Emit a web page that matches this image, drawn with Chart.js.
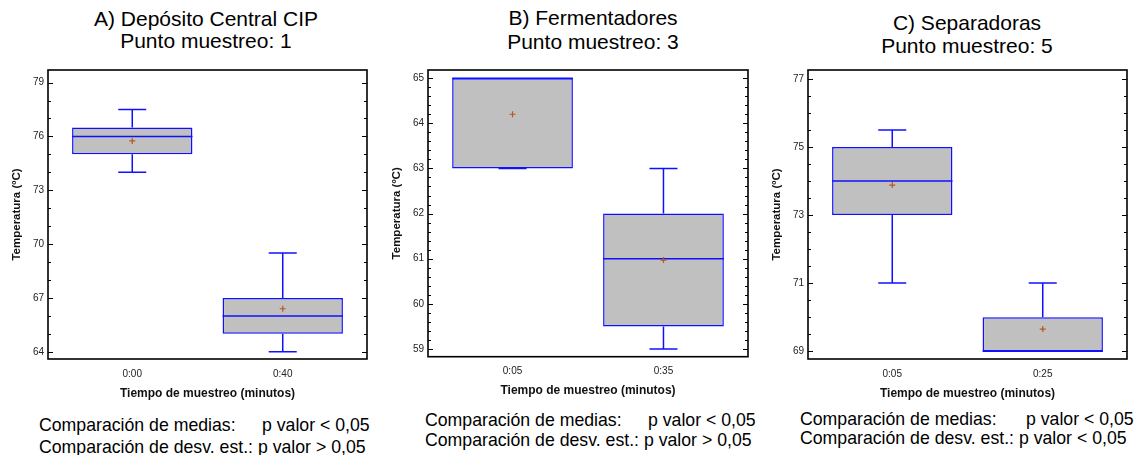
<!DOCTYPE html>
<html>
<head>
<meta charset="utf-8">
<title>Temperatura CIP</title>
<script src="https://cdn.jsdelivr.net/npm/chart.js@4.4.0/dist/chart.umd.min.js"></script>
<style>
  body { margin: 0; background: #fff; width: 1138px; height: 455px; position: relative; overflow: hidden;
         font-family: "Liberation Sans", Arial, sans-serif; color: #000; }
  canvas { position: absolute; }
  .tit { position: absolute; white-space: nowrap; font-size: 21px; line-height: 25px; width: 400px; text-align: center; }
  .pie { position: absolute; white-space: nowrap; font-size: 17.7px; line-height: 20px; }
</style>
</head>
<body>

<div class="tit" style="left:6px;top:6px">A) Depósito Central CIP</div>
<div class="tit" style="left:6px;top:28px">Punto muestreo: 1</div>
<div class="tit" style="left:393px;top:5px">B) Fermentadores</div>
<div class="tit" style="left:393px;top:29px">Punto muestreo: 3</div>
<div class="tit" style="left:767px;top:10px">C) Separadoras</div>
<div class="tit" style="left:767px;top:33px">Punto muestreo: 5</div>

<canvas id="chartA" width="380" height="345" style="left:0px;top:60px"></canvas>
<canvas id="chartB" width="380" height="345" style="left:380px;top:60px"></canvas>
<canvas id="chartC" width="380" height="345" style="left:760px;top:60px"></canvas>

<div class="pie" style="left:39px;top:415px">Comparación de medias:</div>
<div class="pie" style="left:262px;top:415px">p valor &lt; 0,05</div>
<div class="pie" style="left:39px;top:437px">Comparación de desv. est.: p valor &gt; 0,05</div>
<div class="pie" style="left:425px;top:410px">Comparación de medias:</div>
<div class="pie" style="left:648px;top:410px">p valor &lt; 0,05</div>
<div class="pie" style="left:425px;top:430px">Comparación de desv. est.: p valor &gt; 0,05</div>
<div class="pie" style="left:800px;top:409px">Comparación de medias:</div>
<div class="pie" style="left:1026px;top:409px">p valor &lt; 0,05</div>
<div class="pie" style="left:800px;top:428px">Comparación de desv. est.: p valor &lt; 0,05</div>

<script>
// tiempos de muestreo
const labelsA = ["0:00", "0:40"];
const labelsB = ["0:05", "0:35"];
const labelsC = ["0:05", "0:25"];

// A) Depósito Central CIP
const q1A = [75, 65];
const q3A = [76.5, 67];
const medA = [76, 66];
const meanA = [75.75, 66.4];
const minA = [74, 64];
const maxA = [77.5, 69.5];
const ticksA = [64, 67, 70, 73, 76, 79];

// B) Fermentadores
const q1B = [63, 59.5];
const q3B = [65, 62];
const medB = [65, 61];
const meanB = [64.2, 60.97];
const minB = [63, 59];
const maxB = [65, 63];
const ticksB = [59, 60, 61, 62, 63, 64, 65];

// C) Separadoras
const q1C = [73, 69];
const q3C = [75, 70];
const medC = [74, 69];
const meanC = [73.88, 69.65];
const minC = [71, 69];
const maxC = [75.5, 71];
const ticksC = [69, 71, 73, 75, 77];

Chart.defaults.font.family = '"Liberation Sans", Arial, sans-serif';
Chart.defaults.color = '#222';

const AZUL = '#1010ff';

// marco negro y marcas del eje y por dentro, a ambos lados
const marcoPlugin = {
  id: 'marco',
  afterDraw(chart, args, opts) {
    const { ctx, chartArea: a } = chart;
    const y = chart.scales.y;
    ctx.save();
    ctx.strokeStyle = '#000';
    ctx.lineWidth = 1;
    const n0 = Math.ceil(y.min / opts.minor - 1e-9);
    const n1 = Math.floor(y.max / opts.minor + 1e-9);
    for (let n = n0; n <= n1; n++) {
      const v = n * opts.minor;
      const py = Math.round(y.getPixelForValue(v)) + 0.5;
      const mayor = opts.major.some(m => Math.abs(m - v) < 1e-6);
      const len = mayor ? 5 : 3;
      ctx.beginPath();
      ctx.moveTo(a.left, py); ctx.lineTo(a.left + len, py);
      ctx.moveTo(a.right, py); ctx.lineTo(a.right - len, py);
      ctx.stroke();
    }
    ctx.lineWidth = 1.6;
    ctx.strokeRect(a.left, a.top, a.width, a.height);
    ctx.restore();
  }
};

// bigotes, mediana y media de cada caja
const cajaPlugin = {
  id: 'caja',
  afterDatasetsDraw(chart, args, opts) {
    const { ctx } = chart;
    const y = chart.scales.y;
    const meta = chart.getDatasetMeta(0);
    ctx.save();
    meta.data.forEach((bar, i) => {
      const x = bar.x;
      const half = bar.width / 2;
      const cap = 14;
      ctx.strokeStyle = AZUL;
      ctx.lineWidth = 1.5;
      const pMed = y.getPixelForValue(opts.med[i]);
      const pQ1 = y.getPixelForValue(opts.q1[i]);
      const pQ3 = y.getPixelForValue(opts.q3[i]);
      const pMin = y.getPixelForValue(opts.min[i]);
      const pMax = y.getPixelForValue(opts.max[i]);
      ctx.beginPath();
      ctx.moveTo(x - half, pMed); ctx.lineTo(x + half, pMed);
      ctx.moveTo(x, pQ3); ctx.lineTo(x, pMax);
      ctx.moveTo(x - cap, pMax); ctx.lineTo(x + cap, pMax);
      ctx.moveTo(x, pQ1); ctx.lineTo(x, pMin);
      ctx.moveTo(x - cap, pMin); ctx.lineTo(x + cap, pMin);
      ctx.stroke();
      // media
      const pMean = y.getPixelForValue(opts.mean[i]);
      ctx.strokeStyle = '#b4581e';
      ctx.lineWidth = 1.2;
      ctx.beginPath();
      ctx.moveTo(x - 3, pMean); ctx.lineTo(x + 3, pMean);
      ctx.moveTo(x, pMean - 3); ctx.lineTo(x, pMean + 3);
      ctx.stroke();
    });
    ctx.restore();
  }
};

const crearGrafico = (id, cfg) => {
  const puntos = cfg.labels.map((l, i) => ({ x: i, y: [cfg.q1[i], cfg.q3[i]] }));
  return new Chart(document.getElementById(id), {
    type: 'bar',
    data: {
      datasets: [{
        data: puntos,
        backgroundColor: '#c0c0c0',
        borderColor: AZUL,
        borderWidth: 1.5,
        borderSkipped: false,
        barPercentage: 0.8,
        categoryPercentage: 1
      }]
    },
    plugins: [cajaPlugin, marcoPlugin],
    options: {
      responsive: false,
      animation: false,
      layout: { padding: { top: cfg.padTop, right: cfg.padRight, bottom: cfg.padBottom, left: 0 } },
      plugins: {
        legend: { display: false },
        tooltip: { enabled: false },
        caja: { q1: cfg.q1, q3: cfg.q3, med: cfg.med, mean: cfg.mean, min: cfg.min, max: cfg.max },
        marco: { minor: cfg.minor, major: cfg.ticks }
      },
      scales: {
        x: {
          type: 'linear',
          min: -0.56,
          max: 1.56,
          offset: false,
          grid: { display: false, drawTicks: false },
          border: { display: false },
          afterBuildTicks: (s) => { s.ticks = cfg.labels.map((l, i) => ({ value: i })); },
          ticks: {
            padding: 9,
            font: { size: 10 },
            maxRotation: 0,
            callback: (v) => cfg.labels[v]
          },
          title: {
            display: true,
            text: 'Tiempo de muestreo (minutos)',
            color: '#111',
            font: { size: 12, weight: 'bold' },
            padding: { top: -3, bottom: 0 }
          }
        },
        y: {
          min: cfg.yMin,
          max: cfg.yMax,
          grid: { display: false, drawTicks: false },
          border: { display: false },
          afterBuildTicks: (s) => { s.ticks = cfg.ticks.map(v => ({ value: v })); },
          afterFit: (s) => { s.width = 48; },
          ticks: { padding: 4, font: { size: 10 } },
          title: {
            display: true,
            text: 'Temperatura (ºC)',
            color: '#111',
            font: { size: 11.5, weight: 'bold' },
            padding: { top: 10, bottom: 0 }
          }
        }
      }
    }
  });
};

crearGrafico('chartA', {
  labels: labelsA, q1: q1A, q3: q3A, med: medA, mean: meanA, min: minA, max: maxA,
  ticks: ticksA, minor: 1, yMin: 63.6, yMax: 79.7,
  padTop: 6, padRight: 13, padBottom: 4.6
});
crearGrafico('chartB', {
  labels: labelsB, q1: q1B, q3: q3B, med: medB, mean: meanB, min: minB, max: maxB,
  ticks: ticksB, minor: 0.2, yMin: 58.83, yMax: 65.18,
  padTop: 7, padRight: 12, padBottom: 6.9
});
crearGrafico('chartC', {
  labels: labelsC, q1: q1C, q3: q3C, med: medC, mean: meanC, min: minC, max: maxC,
  ticks: ticksC, minor: 0.5, yMin: 68.77, yMax: 77.26,
  padTop: 8, padRight: 13, padBottom: 4.6
});
</script>
</body>
</html>
